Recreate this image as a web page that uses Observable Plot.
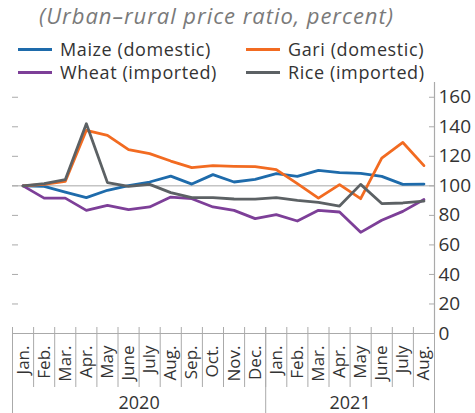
<!DOCTYPE html>
<html><head><meta charset="utf-8">
<script src="https://cdn.jsdelivr.net/npm/d3@7"></script>
<script src="https://cdn.jsdelivr.net/npm/@observablehq/plot@0.6"></script>
<style>
body{margin:0;background:#fff;font-family:"Open Sans",sans-serif;}
#wrap{position:relative;width:475px;height:413px;overflow:hidden;background:#fff}
#title{position:absolute;left:39px;top:0px;font-style:italic;font-size:22px;letter-spacing:0.95px;color:#7a7a7a;white-space:nowrap;line-height:31px;z-index:2}
.leg{position:absolute;display:flex;align-items:center;font-size:18px;letter-spacing:0.6px;color:#333;height:24px;white-space:nowrap;z-index:2}
.sw{width:34px;height:3px;margin-right:8px}
#chart{position:absolute;left:0;top:78px;z-index:1}
</style></head>
<body>
<div id="wrap">
  <div id="title">(Urban–rural price ratio, percent)</div>
  <div id="legend"></div>
  <div id="chart"></div>
</div>
<script>
const months = ["Jan.","Feb.","Mar.","Apr.","May","June","July","Aug.","Sep.","Oct.","Nov.","Dec.",
                "Jan.","Feb.","Mar.","Apr.","May","June","July","Aug."];
const years = ["2020","2021"];
const monthsPerYear = [12, 8];
const yTicks = [0,20,40,60,80,100,120,140,160];

const seriesNames = ["Maize (domestic)","Gari (domestic)","Wheat (imported)","Rice (imported)"];
const seriesColors = ["#1e6bab","#f26b21","#7d3f98","#5c6164"];

const maize = [100,99.7,95.8,92.0,97.0,100.1,102.6,106.6,101.2,107.6,102.6,104.4,108.3,106.4,110.5,108.9,108.5,106.4,101.0,101.2];
const gari  = [100,101.0,103.0,137.6,134.2,124.5,121.8,116.8,112.3,113.7,113.2,113.0,111.0,101.5,91.7,100.8,91.3,118.8,129.4,113.7];
const wheat = [100,91.7,91.7,83.4,86.8,83.9,85.7,92.4,91.3,85.7,83.4,77.8,80.5,76.2,83.4,82.3,68.5,76.7,82.7,90.7];
const rice  = [100,101.5,104.2,142.1,102.2,99.7,101.0,95.4,92.0,92.0,91.1,91.0,92.0,90.2,88.8,86.3,101.0,88.0,88.4,89.7];

const seriesValues = [maize, gari, wheat, rice];
const data = seriesNames.flatMap((s, k) => seriesValues[k].map((v, i) => ({series: s, i, v})));

// legend (HTML, above the svg)
const legPos = [[18,37],[246,37],[18,60],[246,60]];
const legend = document.getElementById("legend");
seriesNames.forEach((name, k) => {
  const d = document.createElement("div");
  d.className = "leg";
  d.style.left = legPos[k][0] + "px";
  d.style.top = legPos[k][1] + "px";
  d.innerHTML = `<span class="sw" style="background:${seriesColors[k]}"></span><span>${name}</span>`;
  legend.appendChild(d);
});

const n = months.length;
const bounds = d3.range(n + 1).map(i => i - 0.5);
const yearBounds = [-0.5];
const yearCenters = [];
let start = 0;
monthsPerYear.forEach(c => { yearCenters.push(start + (c - 1) / 2); start += c; yearBounds.push(start - 0.5); });

const chart = Plot.plot({
  width: 475, height: 335,
  marginTop: 4, marginBottom: 80, marginLeft: 12, marginRight: 41,
  x: {type: "linear", domain: [-0.5, n - 0.5], axis: null},
  y: {domain: [0, 170], axis: null},
  color: {domain: seriesNames, range: seriesColors},
  style: {fontFamily: "Open Sans, sans-serif", background: "transparent", overflow: "visible"},
  marks: [
    Plot.ruleY([100], {stroke: "#c4c4c4", strokeWidth: 1.5}),
    Plot.axisY({anchor: "left", label: null, ticks: yTicks.filter(t => t > 0), tickSize: 6, dx: 6, stroke: "#aaa", tickFormat: () => ""}),
    Plot.axisY({anchor: "right", label: null, ticks: yTicks.filter(t => t > 0), tickSize: 6, dx: -6, stroke: "#aaa", tickFormat: () => ""}),
    Plot.axisY({anchor: "right", label: null, ticks: yTicks, tickSize: 0, tickPadding: 4, fontSize: 19, fill: "#333"}),
    Plot.ruleX([n - 0.5], {stroke: "#aaa", strokeWidth: 1.2}),
    Plot.ruleY([0], {stroke: "#aaa", strokeWidth: 1.2}),
    Plot.axisX({label: null, ticks: bounds, tickSize: 60, dy: -6, stroke: "#aaa", tickFormat: () => ""}),
    Plot.axisX({label: null, ticks: yearBounds, tickSize: 86, dy: -6, stroke: "#aaa", tickFormat: () => ""}),
    Plot.text(months, {x: (d, i) => i, frameAnchor: "bottom", rotate: -90, textAnchor: "end", lineAnchor: "middle", dy: 12, fontSize: 17, fill: "#333"}),
    Plot.text(years, {x: (d, i) => yearCenters[i], frameAnchor: "bottom", lineAnchor: "middle", dy: 70, fontSize: 18, fill: "#333"}),
    Plot.line(data, {x: "i", y: "v", z: "series", stroke: "series", strokeWidth: 2.8})
  ]
});
document.getElementById("chart").appendChild(chart);
</script>
</body></html>
